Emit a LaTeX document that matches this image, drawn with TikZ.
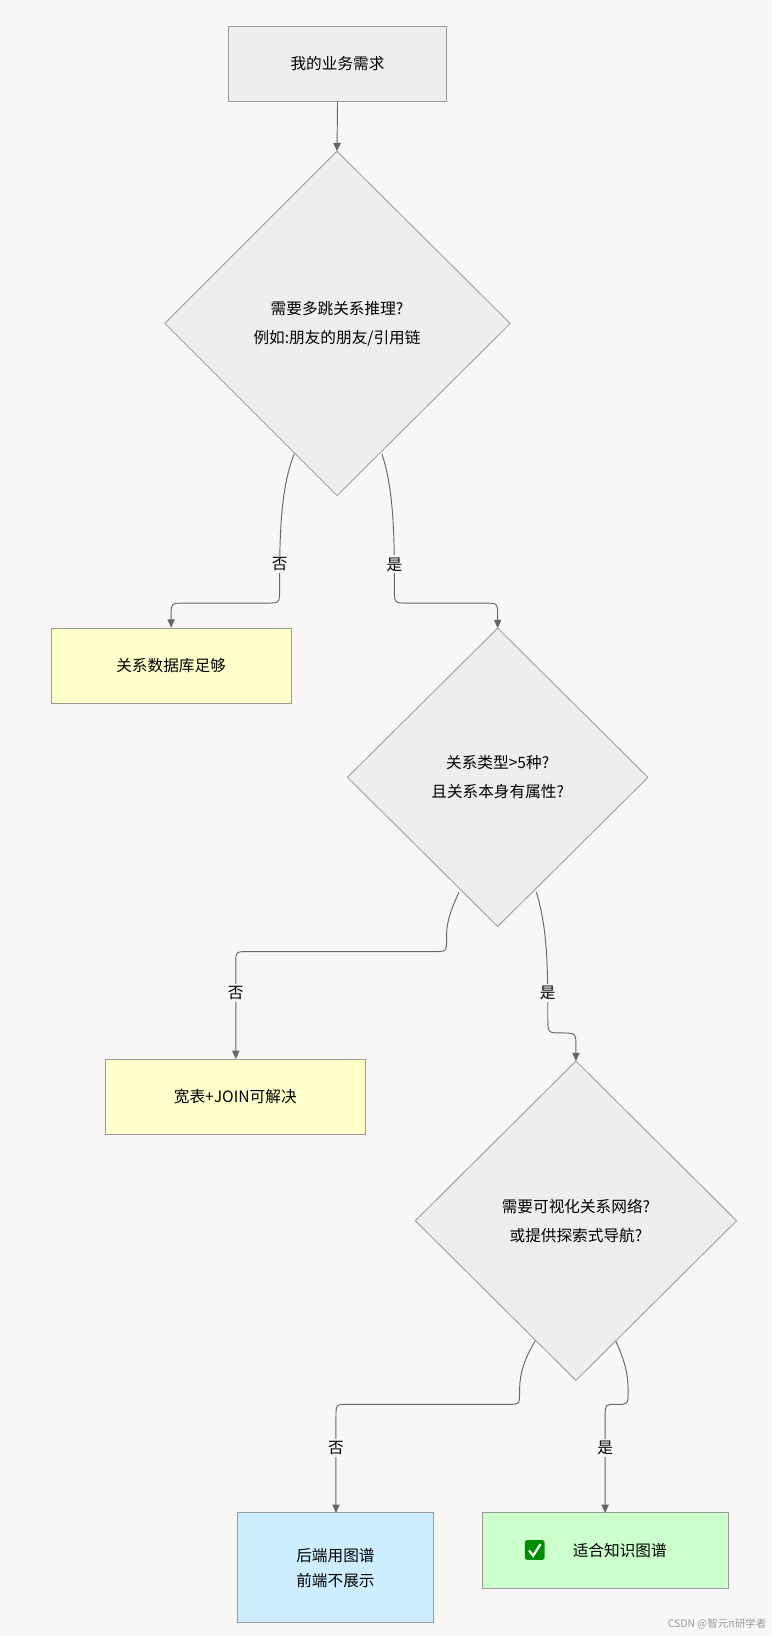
\documentclass[tikz,border=0pt]{standalone}
\usepackage{fontspec}
\setmainfont{Noto Sans CJK SC}
\usetikzlibrary{shapes.geometric,arrows.meta}
\definecolor{bg}{HTML}{F8F7F6}
\definecolor{gb}{HTML}{EEEEEE}
\definecolor{yb}{HTML}{FFFFCC}
\definecolor{bb}{HTML}{CCEEFF}
\definecolor{grb}{HTML}{CCFFCC}
\definecolor{ln}{HTML}{999999}
\definecolor{ar}{HTML}{666666}
\begin{document}
\begin{tikzpicture}[x=1pt,y=-1pt,
  box/.style={draw=ln,line width=0.8pt,font=\fontsize{15}{24}\selectfont,align=center,inner sep=0pt},
  dia/.style={draw=ln,line width=0.8pt,fill=gb},
  dt/.style={font=\fontsize{15}{28}\selectfont,align=center},
  lab/.style={font=\fontsize{15}{18}\selectfont,fill=bg,inner sep=2pt},
  e/.style={draw=ar,line width=0.9pt,-{Triangle[length=8pt,width=7pt]}}]
\fill[bg] (0,0) rectangle (740,1568);
\useasboundingbox (0,0) rectangle (740,1568);
% nodes
\node[box,fill=gb,minimum width=209pt,minimum height=72pt] (n1) at (323.5,61) {我的业务需求};
\draw[dia] (323,145) -- (489,310) -- (323,475) -- (158,310) -- cycle;
\node[dt] (d1) at (323,310) {需要多跳关系推理?\\例如:朋友的朋友/引用链};
\node[box,fill=yb,minimum width=230pt,minimum height=72pt] (y1) at (164,638) {关系数据库足够};
\draw[dia] (477,602) -- (621,745) -- (477,888) -- (333,745) -- cycle;
\node[dt] (d2) at (477,745) {关系类型>5种?\\且关系本身有属性?};
\node[box,fill=yb,minimum width=249pt,minimum height=72pt] (y2) at (225.5,1051) {宽表+JOIN可解决};
\draw[dia] (552,1017) -- (706,1170) -- (552,1323) -- (398,1170) -- cycle;
\node[dt] (d3) at (552,1170) {需要可视化关系网络?\\或提供探索式导航?};
\node[box,fill=bb,minimum width=187pt,minimum height=105pt] (b1) at (321.5,1502.5) {后端用图谱\\前端不展示};
\node[box,fill=grb,minimum width=236pt,minimum height=72pt] (g1) at (580,1486) {};
\node[font=\fontsize{15}{18}\selectfont] (g1t) at (594,1486) {适合知识图谱};
% emoji check
\fill[green!55!black,rounded corners=2.5pt] (503,1476) rectangle (522,1495);
\draw[white,line width=2.2pt] (507,1486) -- (511,1491) -- (518,1480);
% edges
\coordinate (a1) at (282,435); \coordinate (a2) at (366,435);
\coordinate (b1s) at (440,855); \coordinate (b2s) at (514,855);
\coordinate (c1) at (513,1285); \coordinate (c2) at (590,1285);
\draw[e] (n1.south) -- (323,145);
\draw[e] (a1) .. controls (268,470) and (268,520) .. (268,565) .. controls (268,578) .. (255,578) -- (177,578) .. controls (164,578) .. (164,591) -- (y1.north);
\node[lab] at (268,541) {否};
\draw[e] (a2) .. controls (378,470) and (378,520) .. (378,565) .. controls (378,578) .. (391,578) -- (464,578) .. controls (477,578) .. (477,591) -- (477,602);
\node[lab] at (378,541) {是};
\draw[e] (b1s) .. controls (428,880) and (428,890) .. (428,900) .. controls (428,912) .. (416,912) -- (238,912) .. controls (226,912) .. (226,924) -- (226,1015);
\node[lab] at (226,952) {否};
\draw[e] (b2s) .. controls (525,890) and (525,930) .. (525,975) .. controls (525,990) .. (538,990) .. controls (552,990) .. (552,1004) -- (552,1017);
\node[lab] at (525,952) {是};
\draw[e] (c1) .. controls (498,1310) and (498,1325) .. (498,1334) .. controls (498,1346) .. (486,1346) -- (334,1346) .. controls (322,1346) .. (322,1358) -- (322,1450);
\node[lab] at (322,1388) {否};
\draw[e] (c2) .. controls (602,1310) and (602,1325) .. (602,1334) .. controls (602,1346) .. (591,1346) .. controls (580,1346) .. (580,1357) -- (580,1450);
\node[lab] at (580,1388) {是};
\node[font=\fontsize{10}{11}\selectfont,text=gray!80,anchor=east] (wm) at (738,1556) {CSDN @智元π研学者};
\end{tikzpicture}
\end{document}
